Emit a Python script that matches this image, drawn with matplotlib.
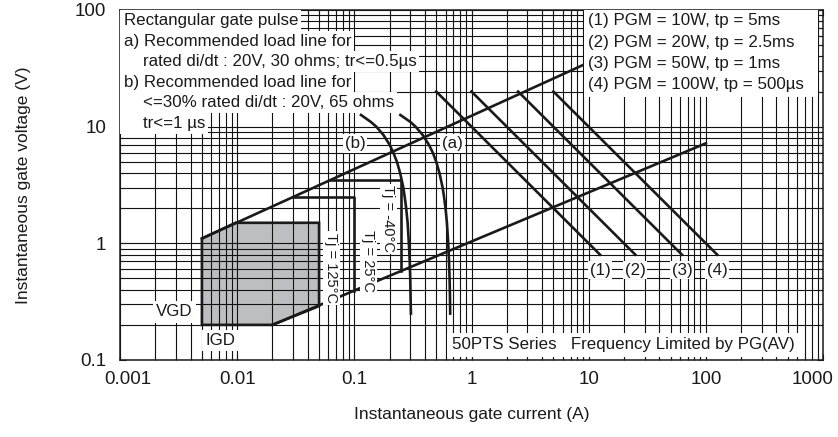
import matplotlib.pyplot as plt
import matplotlib.transforms as mtransforms
from matplotlib.patches import Polygon, Rectangle

plt.rcParams['font.family'] = ['Liberation Sans', 'DejaVu Sans']

# axis ticks
x_ticks = [0.001, 0.01, 0.1, 1, 10, 100, 1000]
x_tick_labels = ['0.001', '0.01', '0.1', '1', '10', '100', '1000']
y_ticks = [0.1, 1, 10, 100]
y_tick_labels = ['0.1', '1', '10', '100']

# boundary load lines (A, V)
upper_i = [0.005, 10]
upper_v = [1.1, 35.5]
lower_i = [0.02, 100]
lower_v = [0.2, 7.2]

# gate trigger area (Tj = 125 C)
area_i = [0.005, 0.005, 0.0097, 0.05, 0.05, 0.02]
area_v = [0.2, 1.1, 1.5, 1.5, 0.29, 0.2]

# Tj = 25 C and Tj = -40 C brackets
tj25_i = [0.0298, 0.1, 0.1]
tj25_v = [2.5, 2.5, 0.39]
tj40_i = [0.0625, 0.25, 0.25]
tj40_v = [3.5, 3.5, 0.58]

# recommended load lines a) 30 ohms and b) 65 ohms
load_v = [12.6, 11, 10, 8.5, 7, 6, 5, 4, 3, 2.5, 2, 1.5, 1, 0.7, 0.5, 0.35, 0.25]
load_a_i = [0.247, 0.300, 0.333, 0.383, 0.433, 0.467, 0.500, 0.533, 0.567,
            0.583, 0.600, 0.617, 0.633, 0.643, 0.650, 0.655, 0.658]
load_b_i = [0.114, 0.138, 0.154, 0.177, 0.200, 0.215, 0.231, 0.246, 0.262,
            0.269, 0.277, 0.285, 0.292, 0.297, 0.300, 0.302, 0.304]

# peak gate power lines (1)..(4)
pgm_labels = ['(1)', '(2)', '(3)', '(4)']
pgm_start_i = [0.5, 1.0, 2.5, 5.0]
pgm_end_i = [12.5, 25.0, 62.5, 125.0]
pgm_v = [20, 0.8]

legend_left = ['Rectangular gate pulse',
               'a) Recommended load line for',
               '    rated di/dt : 20V, 30 ohms; tr<=0.5\u00b5s',
               'b) Recommended load line for',
               '    <=30% rated di/dt : 20V, 65 ohms',
               '    tr<=1 \u00b5s']
legend_right = ['(1) PGM = 10W, tp = 5ms',
                '(2) PGM = 20W, tp = 2.5ms',
                '(3) PGM = 50W, tp = 1ms',
                '(4) PGM = 100W, tp = 500\u00b5s']

ink = '#1a1a1a'
lw = 1.9

fig = plt.figure(figsize=(8.38, 4.37), dpi=100)
ax = fig.add_axes([120 / 838, 1 - 360 / 437, 703 / 838, 350 / 437])
ax.set_xscale('log')
ax.set_yscale('log')
ax.set_xlim(0.001, 1000)
ax.set_ylim(0.1, 100)

ax.grid(True, which='both', color='#111111', lw=0.8)
ax.set_axisbelow(True)

# gray trigger area, grid shows through it
ax.add_patch(Polygon(list(zip(area_i, area_v)), closed=True,
                     facecolor='#bdbec1', edgecolor='none', zorder=0.2))
ax.add_patch(Polygon(list(zip(area_i, area_v)), closed=True,
                     facecolor='none', edgecolor=ink, lw=lw, zorder=2))

ax.plot(upper_i, upper_v, color=ink, lw=lw, zorder=2)
ax.plot(lower_i, lower_v, color=ink, lw=lw, zorder=2)
ax.plot(tj25_i, tj25_v, color=ink, lw=lw, zorder=2)
ax.plot(tj40_i, tj40_v, color=ink, lw=lw, zorder=2)
ax.plot(load_a_i, load_v, color=ink, lw=lw, zorder=2)
ax.plot(load_b_i, load_v, color=ink, lw=lw, zorder=2)

box = dict(facecolor='white', edgecolor='none', pad=1.2)
fs = 12.2

for lab, i0, i1 in zip(pgm_labels, pgm_start_i, pgm_end_i):
    ax.plot([i0, i1], pgm_v, color=ink, lw=lw, zorder=2)
    ax.text(i1, 0.59, lab, ha='center', va='center', fontsize=fs,
            color=ink, bbox=box, zorder=4)

# text blocks
for k, s in enumerate(legend_left):
    ax.text(0.005, 0.969 - k * 0.0586, s, transform=ax.transAxes,
            ha='left', va='center', fontsize=fs, color=ink,
            bbox=dict(facecolor='white', edgecolor='none', pad=2.2), zorder=4)

ax.add_patch(Rectangle((0.660, 0.751), 0.333, 0.249, transform=ax.transAxes,
                       facecolor='white', edgecolor='none', zorder=3))
for k, s in enumerate(legend_right):
    ax.text(0.666, 0.969 - k * 0.0608, s, transform=ax.transAxes,
            ha='left', va='center', fontsize=fs, color=ink, zorder=4)

ax.text(0.472, 0.043, '50PTS Series   Frequency Limited by PG(AV)',
        transform=ax.transAxes, ha='left', va='center', fontsize=fs,
        color=ink, bbox=dict(facecolor='white', edgecolor='none', pad=3.5),
        zorder=4)

ax.text(0.102, 7.2, '(b)', ha='center', va='center', fontsize=fs,
        color=ink, bbox=box, zorder=4)
ax.text(0.69, 7.2, '(a)', ha='center', va='center', fontsize=fs,
        color=ink, bbox=box, zorder=4)
ax.text(0.0029, 0.258, 'VGD', ha='center', va='center', fontsize=fs,
        color=ink, bbox=dict(facecolor='white', edgecolor='none', pad=2.5), zorder=4)
ax.text(0.0072, 0.147, 'IGD', ha='center', va='center', fontsize=fs,
        color=ink, bbox=dict(facecolor='white', edgecolor='none', pad=2.5), zorder=4)

fs_tj = 10.5
ax.text(0.195, 1.62, 'Tj = -40\u00b0C', rotation=-90, ha='center', va='center',
        fontsize=fs_tj, color=ink, bbox=box, zorder=4)
ax.text(0.132, 0.707, 'Tj = 25\u00b0C', rotation=-90, ha='center', va='center',
        fontsize=fs_tj, color=ink, bbox=box, zorder=4)
ax.text(0.0636, 0.615, 'Tj = 125\u00b0C', rotation=-90, ha='center', va='center',
        fontsize=fs_tj, color=ink, bbox=box, zorder=4)

# ticks and labels
ax.set_xticks(x_ticks)
ax.set_xticklabels(x_tick_labels)
ax.set_yticks(y_ticks)
ax.set_yticklabels(y_tick_labels)
ax.tick_params(which='both', direction='in', top=True, right=True,
               color=ink, labelsize=13.5, labelcolor=ink)
ax.tick_params(which='major', length=4, width=0.8)
ax.tick_params(which='minor', length=3, width=0.8)
ax.tick_params(axis='x', pad=8)
ax.tick_params(axis='y', pad=10)

labels = ax.get_xticklabels()
labels[0].set_transform(labels[0].get_transform() +
                        mtransforms.ScaledTranslation(8 / 100, 0, fig.dpi_scale_trans))
labels[-1].set_transform(labels[-1].get_transform() +
                         mtransforms.ScaledTranslation(-10 / 100, 0, fig.dpi_scale_trans))

for sp in ax.spines.values():
    sp.set_color(ink)
    sp.set_linewidth(1.1)

ax.set_xlabel('Instantaneous gate current (A)', fontsize=12.5, color=ink)
ax.set_ylabel('Instantaneous gate voltage (V)', fontsize=12.5, color=ink)
ax.xaxis.set_label_coords(0.5, -0.135)
ax.yaxis.set_label_coords(-0.127, 0.5)

fig.savefig('out.png', dpi=100)
